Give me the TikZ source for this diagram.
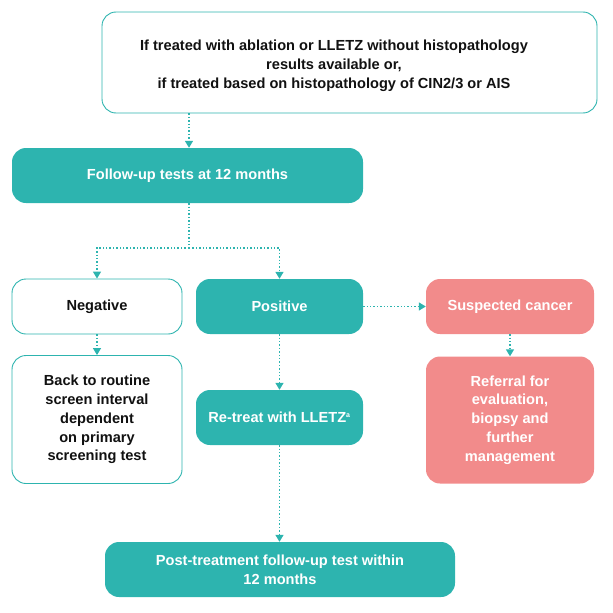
\documentclass[tikz,border=0pt]{standalone}
\usepackage{fontspec}
\setmainfont{Liberation Sans}
\usetikzlibrary{arrows.meta}
\definecolor{teal1}{HTML}{2DB4AF}
\definecolor{pink1}{HTML}{F28B8B}
\definecolor{txt}{HTML}{111111}
\tikzset{
  box/.style={rounded corners=14pt, align=center, font=\fontsize{14.6}{18.8}\selectfont\bfseries, inner sep=0pt},
  whitebox/.style={box, draw=teal1, line width=0.9pt, fill=white, text=txt},
  tealbox/.style={box, fill=teal1, text=white},
  pinkbox/.style={box, fill=pink1, text=white},
  conn/.style={draw=teal1, line width=1.4pt, dotted, -{Triangle[width=8pt,length=7pt]}},
  connl/.style={draw=teal1, line width=1.4pt, dotted},
}
\begin{document}
\begin{tikzpicture}[x=1pt,y=-1pt]
\useasboundingbox (0,0) rectangle (613,613);
% boxes
\node[whitebox, minimum width=495pt, minimum height=101pt] (top) at (349.5,62.5) {};
\node[box, text=txt] (toptxt) at (334,66)
  {If treated with ablation or LLETZ without histopathology\\results available or,\\if treated based on histopathology of CIN2/3 or AIS};
\node[tealbox, minimum width=351pt, minimum height=55pt] (fu) at (187.5,175.5) {Follow-up tests at 12 months};
\node[whitebox, minimum width=170pt, minimum height=55pt] (neg) at (97,306.5) {Negative};
\node[tealbox, minimum width=167pt, minimum height=55pt] (pos) at (279.5,306.5) {Positive};
\node[pinkbox, minimum width=168pt, minimum height=55pt] (sus) at (510,306.5) {Suspected cancer};
\node[whitebox, minimum width=170pt, minimum height=128pt] (back) at (97,419.5)
  {Back to routine\\screen interval\\dependent\\on primary\\screening test};
\node[pinkbox, minimum width=168pt, minimum height=127pt] (ref) at (510,420)
  {Referral for\\evaluation,\\biopsy and\\further\\management};
\node[tealbox, minimum width=167pt, minimum height=55pt] (re) at (279.5,417.5) {Re-treat with LLETZ\textsuperscript{\fontsize{7}{8}\selectfont a}};
\node[tealbox, minimum width=350pt, minimum height=55pt] (post) at (280,569.5)
  {Post-treatment follow-up test within\\12 months};
% connectors
\coordinate (s) at (189,248);
\draw[conn] (top.south -| 189,0) -- (fu.north -| 189,0);
\draw[connl] (fu.south -| s) -- (s);
\draw[conn] (s) -| (neg.north);
\draw[conn] (s) -| (pos.north);
\draw[conn] (pos.east) -- (sus.west);
\draw[conn] (sus.south) -- (ref.north);
\draw[conn] (neg.south) -- (back.north);
\draw[conn] (pos.south) -- (re.north);
\draw[conn] (re.south) -- (re.south |- post.north);
\end{tikzpicture}
\end{document}
